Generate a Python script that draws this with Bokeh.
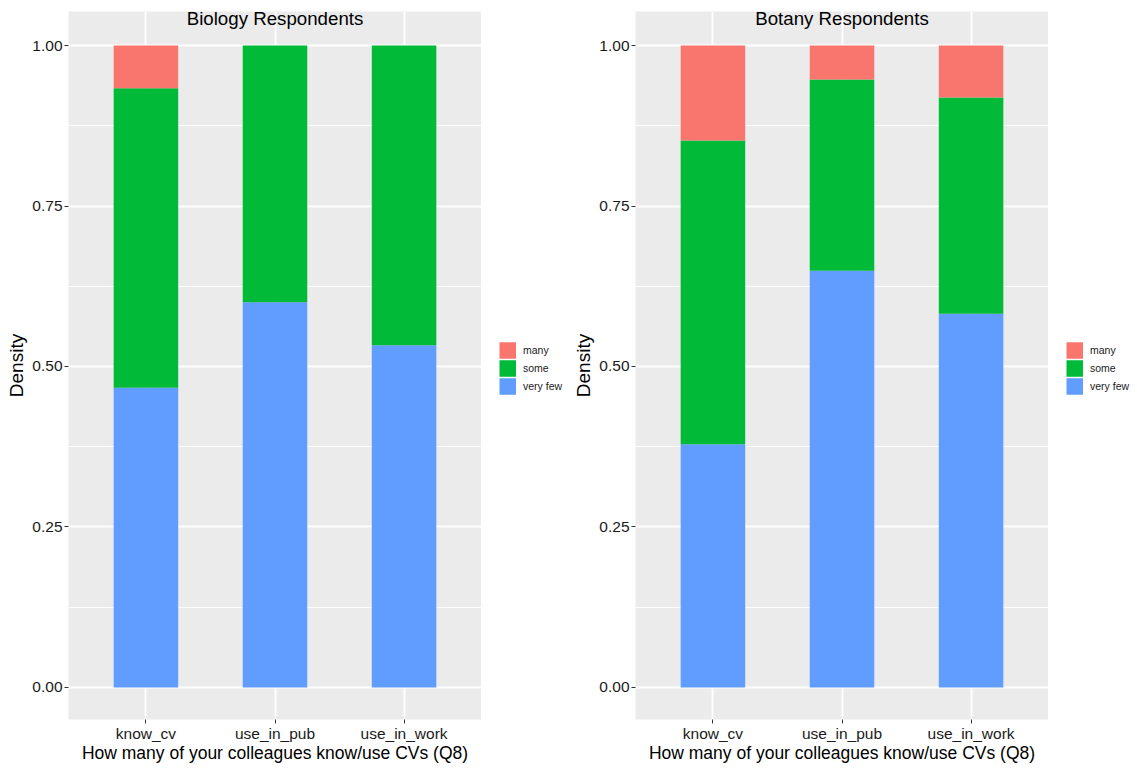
from bokeh.plotting import figure
from bokeh.models import (Range1d, FixedTicker, Legend, LegendItem, Label,
                          ColumnDataSource, NumeralTickFormatter)
from bokeh.layouts import row
from bokeh.embed import file_html
from bokeh.resources import INLINE

# ---------------- data ----------------
categories = ["know_cv", "use_in_pub", "use_in_work"]
responses = ["many", "some", "very few"]

bio_very_few = [0.4667, 0.6000, 0.5333]
bio_some = [0.4667, 0.4000, 0.4667]
bio_many = [0.0666, 0.0, 0.0]

bot_very_few = [0.379, 0.649, 0.582]
bot_some = [0.473, 0.298, 0.337]
bot_many = [0.148, 0.053, 0.081]

y_ticks = [0.0, 0.25, 0.5, 0.75, 1.0]
y_tick_labels = ["0.00", "0.25", "0.50", "0.75", "1.00"]
y_minor_ticks = [0.125, 0.375, 0.625, 0.875]

panel_titles = ["Biology Respondents", "Botany Respondents"]
x_title = "How many of your colleagues know/use CVs (Q8)"
y_title = "Density"

colors = {"many": "#F8766D", "some": "#00BA38", "very few": "#619CFF"}

FONT = "Liberation Sans"
FRAME_W = 413
FRAME_H = 708
TOP = 11
BOTTOM = 47
PX_PER_UNIT = 642.0


def make_panel(title, very_few, some, many):
    xs = list(range(1, len(categories) + 1))
    src = ColumnDataSource(dict(x=xs, very_few=very_few, some=some, many=many))
    p = figure(frame_width=FRAME_W, frame_height=FRAME_H,
               x_range=Range1d(0.4, len(categories) + 0.6),
               y_range=Range1d(-0.05, 1.05 + 2 / PX_PER_UNIT),
               output_backend="svg", toolbar_location=None,
               min_border_left=68, min_border_right=0,
               min_border_top=TOP, min_border_bottom=BOTTOM)
    p.background_fill_color = "#EBEBEB"
    p.border_fill_color = "white"
    p.outline_line_color = None

    p.vbar_stack(["very_few", "some", "many"], x="x", width=0.5,
                 fill_color=[colors["very few"], colors["some"], colors["many"]],
                 line_color=None, source=src)

    # axes
    p.xaxis.ticker = FixedTicker(ticks=xs)
    p.xaxis.major_label_overrides = {x: c for x, c in zip(xs, categories)}
    p.yaxis.ticker = FixedTicker(ticks=y_ticks, minor_ticks=y_minor_ticks)
    p.yaxis.formatter = NumeralTickFormatter(format="0.00")
    p.yaxis.major_label_overrides = {t: l for t, l in zip(y_ticks, y_tick_labels)}
    p.xaxis.axis_label = x_title
    p.yaxis.axis_label = y_title
    for ax in (p.xaxis[0], p.yaxis[0]):
        ax.axis_line_color = None
        ax.major_tick_line_color = "#333333"
        ax.major_tick_line_width = 1
        ax.major_tick_out = 4
        ax.major_tick_in = 0
        ax.minor_tick_line_color = None
        ax.major_label_text_font = FONT
        ax.major_label_text_font_size = "15.5px"
        ax.major_label_text_color = "#1a1a1a"
        ax.axis_label_text_font = FONT
        ax.axis_label_text_font_style = "normal"
        ax.axis_label_text_color = "black"
    p.xaxis.axis_label_text_font_size = "17.5px"
    p.yaxis.axis_label_text_font_size = "19px"
    p.xaxis.major_label_standoff = 1
    p.xaxis.axis_label_standoff = -2
    p.yaxis.major_label_standoff = 2
    p.yaxis.axis_label_standoff = 2

    # grid
    p.xgrid.ticker = FixedTicker(ticks=xs)
    p.xgrid.grid_line_color = "white"
    p.xgrid.grid_line_width = 1.8
    p.ygrid.grid_line_color = "white"
    p.ygrid.grid_line_width = 1.8
    p.ygrid.minor_grid_line_color = "white"
    p.ygrid.minor_grid_line_width = 0.9

    # title drawn over the top of the panel
    lab = Label(x=(len(categories) + 1) / 2, y=1.05 - 5 / PX_PER_UNIT,
                text=title, text_align="center", text_baseline="alphabetic",
                text_font=FONT, text_font_size="18.7px", text_color="black")
    p.add_layout(lab)
    return p, src


def make_legend(width, src):
    # legend-only figure; the series lines sit outside its visible range
    lp = figure(frame_width=width, frame_height=FRAME_H,
                x_axis_location=None, y_axis_location=None,
                x_range=Range1d(0, 1), y_range=Range1d(10, 11),
                output_backend="svg", toolbar_location=None,
                min_border_left=0, min_border_right=0,
                min_border_top=TOP, min_border_bottom=BOTTOM)
    lp.outline_line_color = None
    lp.background_fill_color = "white"
    lp.border_fill_color = "white"
    lp.grid.visible = False
    col = {"many": "many", "some": "some", "very few": "very_few"}
    rmap = {}
    for r in responses:
        rmap[r] = lp.line(x="x", y=col[r], source=src, line_color=colors[r],
                          line_width=16.5, line_cap="butt")
    legend = Legend(items=[LegendItem(label=r, renderers=[rmap[r]]) for r in responses],
                    location=(18, 324), orientation="vertical",
                    glyph_width=17, glyph_height=18, label_height=17,
                    spacing=0, padding=0, margin=0, label_standoff=7,
                    label_text_font=FONT, label_text_font_size="10.5px",
                    label_text_color="#1a1a1a",
                    border_line_color=None, background_fill_alpha=0)
    lp.add_layout(legend)
    return lp


p1, s1 = make_panel(panel_titles[0], bio_very_few, bio_some, bio_many)
l1 = make_legend(86, s1)
p2, s2 = make_panel(panel_titles[1], bot_very_few, bot_some, bot_many)
l2 = make_legend(86, s2)

layout = row(p1, l1, p2, l2)
open("out.html", "w").write(file_html(layout, INLINE, "CV colleagues"))
